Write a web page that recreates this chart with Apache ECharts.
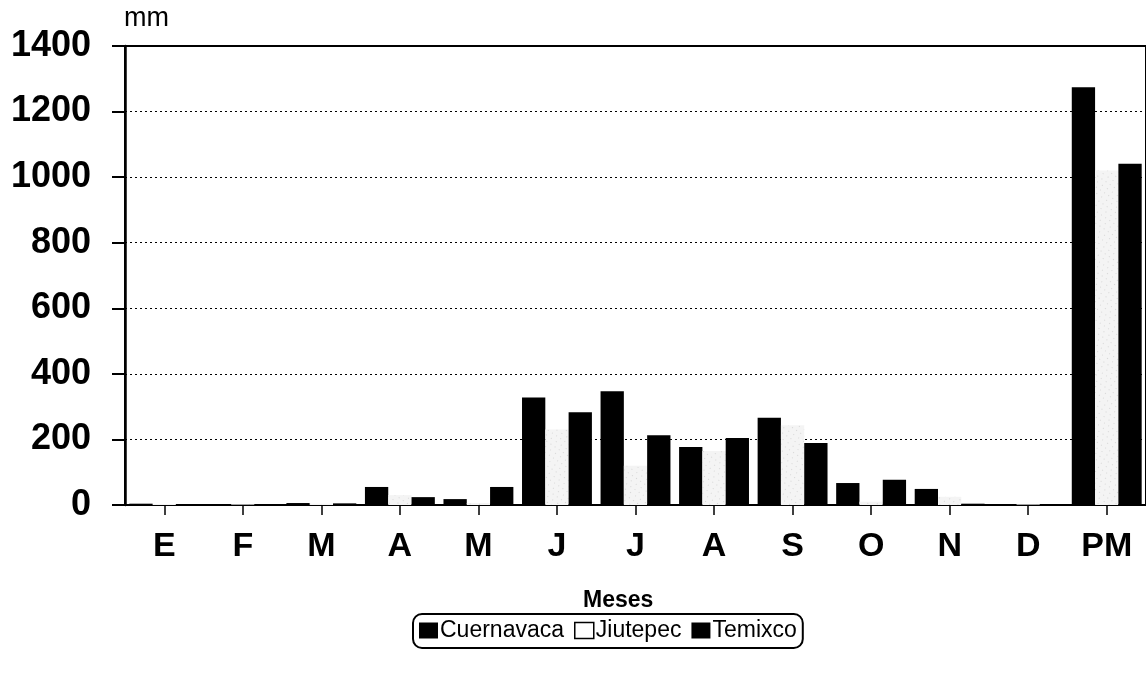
<!DOCTYPE html>
<html>
<head>
<meta charset="utf-8">
<script src="https://cdn.jsdelivr.net/npm/echarts@6/dist/echarts.min.js"></script>
<style>
html,body{margin:0;padding:0;background:#fff;}
#chart{width:1146px;height:680px;}
</style>
</head>
<body>
<div id="chart"></div>
<script>
const categories = ['E','F','M','A','M','J','J','A','S','O','N','D','PM'];
const cuernavaca = [4, 3, 6, 55, 18, 328, 347, 177, 266, 67, 49, 3, 1274];
const jiutepec   = [3, 2, 4, 30, 6, 230, 120, 165, 243, 10, 25, 2, 1020];
const temixco    = [3, 2, 5, 24, 55, 283, 213, 204, 189, 77, 4, 2, 1041];
const yTicks = [0, 200, 400, 600, 800, 1000, 1200, 1400];

const FONT = "'Liberation Sans', Arial, sans-serif";
const chart = echarts.init(document.getElementById('chart'), null, {renderer: 'canvas'});

const option = {
  backgroundColor: '#ffffff',
  animation: false,
  textStyle: {fontFamily: FONT, color: '#000'},
  grid: {
    left: 125, top: 46, right: -2, bottom: 175,
    show: true, borderColor: '#000', borderWidth: 2, backgroundColor: 'transparent'
  },
  legend: {
    left: 413, top: 614,
    orient: 'horizontal',
    icon: 'rect',
    itemWidth: 19, itemHeight: 16, itemGap: 10,
    padding: [5, 6, 6, 6],
    borderColor: '#000', borderWidth: 2, borderRadius: 9,
    textStyle: {fontFamily: FONT, fontSize: 23, color: '#000', padding: [0, 0, 0, -3]},
    data: [
      {name: 'Cuernavaca', itemStyle: {color: '#000'}},
      {name: 'Jiutepec', itemStyle: {color: '#fff', borderColor: '#000', borderWidth: 1.5, decal: 'none'}},
      {name: 'Temixco', itemStyle: {color: '#000'}}
    ]
  },
  graphic: [
    {type: 'text', left: 124, top: 5, style: {text: 'mm', font: "27px " + FONT, fill: '#000'}},
    {type: 'text', left: 583, top: 589, style: {text: 'Meses', font: "bold 23px " + FONT, fill: '#000'}}
  ],
  xAxis: {
    type: 'category',
    data: categories,
    axisLine: {show: true, lineStyle: {color: '#000', width: 2}},
    axisTick: {show: true, alignWithLabel: true, length: 10, lineStyle: {color: '#000', width: 1.5}},
    axisLabel: {fontFamily: FONT, fontSize: 34, fontWeight: 'bold', color: '#000', margin: 25, interval: 0},
    splitLine: {show: false}
  },
  yAxis: {
    type: 'value',
    min: yTicks[0], max: yTicks[yTicks.length - 1], interval: 200,
    axisLine: {show: true, lineStyle: {color: '#000', width: 2.5}},
    axisTick: {show: true, length: 13, lineStyle: {color: '#000', width: 2}},
    axisLabel: {fontFamily: FONT, fontSize: 36, fontWeight: 'bold', color: '#000', margin: 34,
                formatter: function (v) { return String(v); }},
    splitLine: {show: true, lineStyle: {color: '#000', width: 1, type: [2, 3]}}
  },
  series: [
    {name: 'Cuernavaca', type: 'bar', data: cuernavaca, barGap: '0%', barCategoryGap: '11%',
     itemStyle: {color: '#000'}},
    {name: 'Jiutepec', type: 'bar', data: jiutepec, barGap: '0%', barCategoryGap: '11%',
     itemStyle: {color: '#f4f4f4',
       decal: {symbol: 'rect', symbolSize: 0.7, color: 'rgba(0,0,0,0.35)',
               dashArrayX: [[1, 4], [1, 5]], dashArrayY: [1, 4], rotation: 0.6}}},
    {name: 'Temixco', type: 'bar', data: temixco, barGap: '0%', barCategoryGap: '11%',
     itemStyle: {color: '#000'}}
  ]
};
chart.setOption(option);
</script>
</body>
</html>
